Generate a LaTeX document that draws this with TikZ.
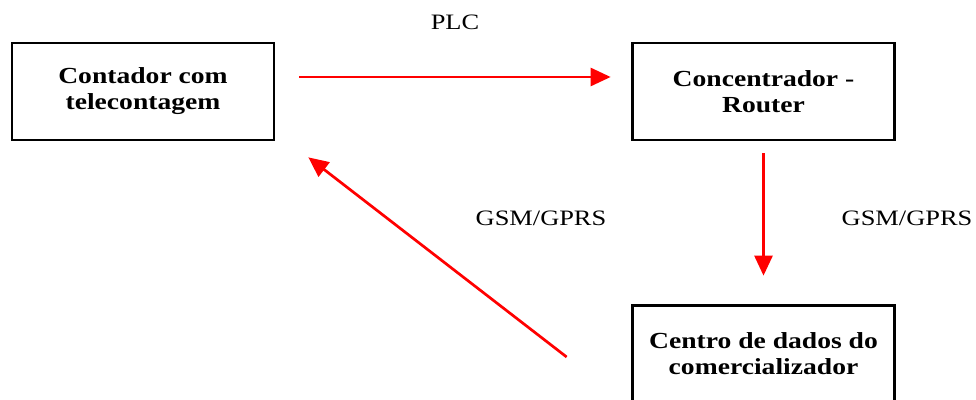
\documentclass[tikz,border=0pt]{standalone}
\usepackage{fontspec}
\setmainfont{Liberation Serif}[FakeStretch=1.2]
\usetikzlibrary{arrows.meta}

\begin{document}
\begin{tikzpicture}[x=1pt, y=1pt,
    caixa/.style={draw=black, line width=2.7pt, minimum width=262pt, minimum height=97pt,
                  align=center, font=\fontsize{23}{26}\selectfont\bfseries},
    seta/.style={draw=red, line width=2.7pt, -{Triangle[length=20pt,width=18pt]}},
    rotulo/.style={font=\fontsize{22}{26}\selectfont}]
    \useasboundingbox (0,0) rectangle (976,399);
    % caixas
    \node[caixa] (contador) at (143, 307.5) {Contador com\\telecontagem};
    \node[caixa] (router) at (763.5, 307.5) {Concentrador -\\Router};
    \node[caixa] (dados) at (763.5, 45) {Centro de dados do\\comercializador};
    % ligacoes
    \draw[seta] ([shift={(24,14.5)}]contador.east) -- ([shift={(-20.5,14.5)}]router.west);
    \draw[seta] ([yshift=-12]router.south) -- ([yshift=28.5]dados.north);
    \draw[seta] ([shift={(-64.5,-3)}]dados.west) -- ([shift={(33,-16)}]contador.south east);
    % rotulos
    \node[rotulo] (plc) at (455, 377) {PLC};
    \node[rotulo] (gsm1) at (907, 181) {GSM/GPRS};
    \node[rotulo] (gsm2) at (541, 181) {GSM/GPRS};
\end{tikzpicture}
\end{document}
